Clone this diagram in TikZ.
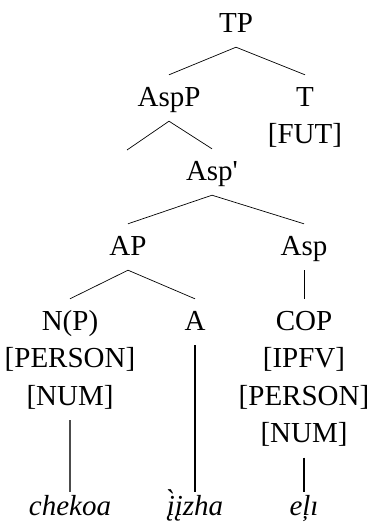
\documentclass[tikz,border=0pt]{standalone}
\usepackage{fontspec}
\setmainfont{Liberation Serif}
\begin{document}
\begin{tikzpicture}[x=1pt,y=-1pt,
	lab/.style={inner sep=0pt,anchor=base,text height=31pt,text depth=15pt,font=\fontsize{29}{37}\selectfont},
	word/.style={lab,text height=23pt,font=\fontsize{29}{37}\selectfont\itshape},
	br/.style={line width=0.7pt},
	leg/.style={line width=1.1pt}]
	\def\l{70}
	\def\m{195}
	\def\r{304}
	\useasboundingbox (0,0) rectangle (373,522);
	% tree labels
	\node[lab] (tp) at (236,32) {TP};
	\node[lab] (aspp) at (169,106) {AspP};
	\node[lab] (t) at (305,106) {T};
	\node[lab] (tf) at (305,143) {[FUT]};
	\coordinate (spec) at (127,150);
	\node[lab] (asp1) at (212,180) {Asp\textquotesingle};
	\node[lab] (ap) at (128,255) {AP};
	\node[lab] (asp) at (\r,255) {Asp};
	\node[lab] (np) at (\l,330) {N(P)};
	\node[lab] (npf1) at (\l,367.5) {[PERSON]};
	\node[lab] (npf2) at (\l,405) {[NUM]};
	\node[lab] (a) at (\m,330) {A};
	\node[lab] (cop) at (\r,330) {COP};
	\node[lab] (copf1) at (\r,367.5) {[IPFV]};
	\node[lab] (copf2) at (\r,405) {[PERSON]};
	\node[lab] (copf3) at (\r,442.5) {[NUM]};
	% words
	\node[word] (w1) at (\l,515) {chekoa};
	\node[word] (w2) at (\m,515) {į̀įzha};
	\node[word] (w3) at (\r,515) {eļı};
	% branches
	\draw[br] (tp.south) -- (aspp.north);
	\draw[br] (tp.south) -- (t.north);
	\draw[br] (aspp.south) -- (spec);
	\draw[br] (aspp.south) -- (asp1.north);
	\draw[br] (asp1.south) -- (ap.north);
	\draw[br] (asp1.south) -- (asp.north);
	\draw[br] (ap.south) -- (np.north);
	\draw[br] (ap.south) -- (a.north);
	\draw[br] (asp.south) -- (cop.north);
	\draw[leg,black!70] (npf2.south) -- (w1.north);
	\draw[leg] (a.south) -- (w2.north);
	\draw[leg] (copf3.south) -- (w3.north);
\end{tikzpicture}
\end{document}
